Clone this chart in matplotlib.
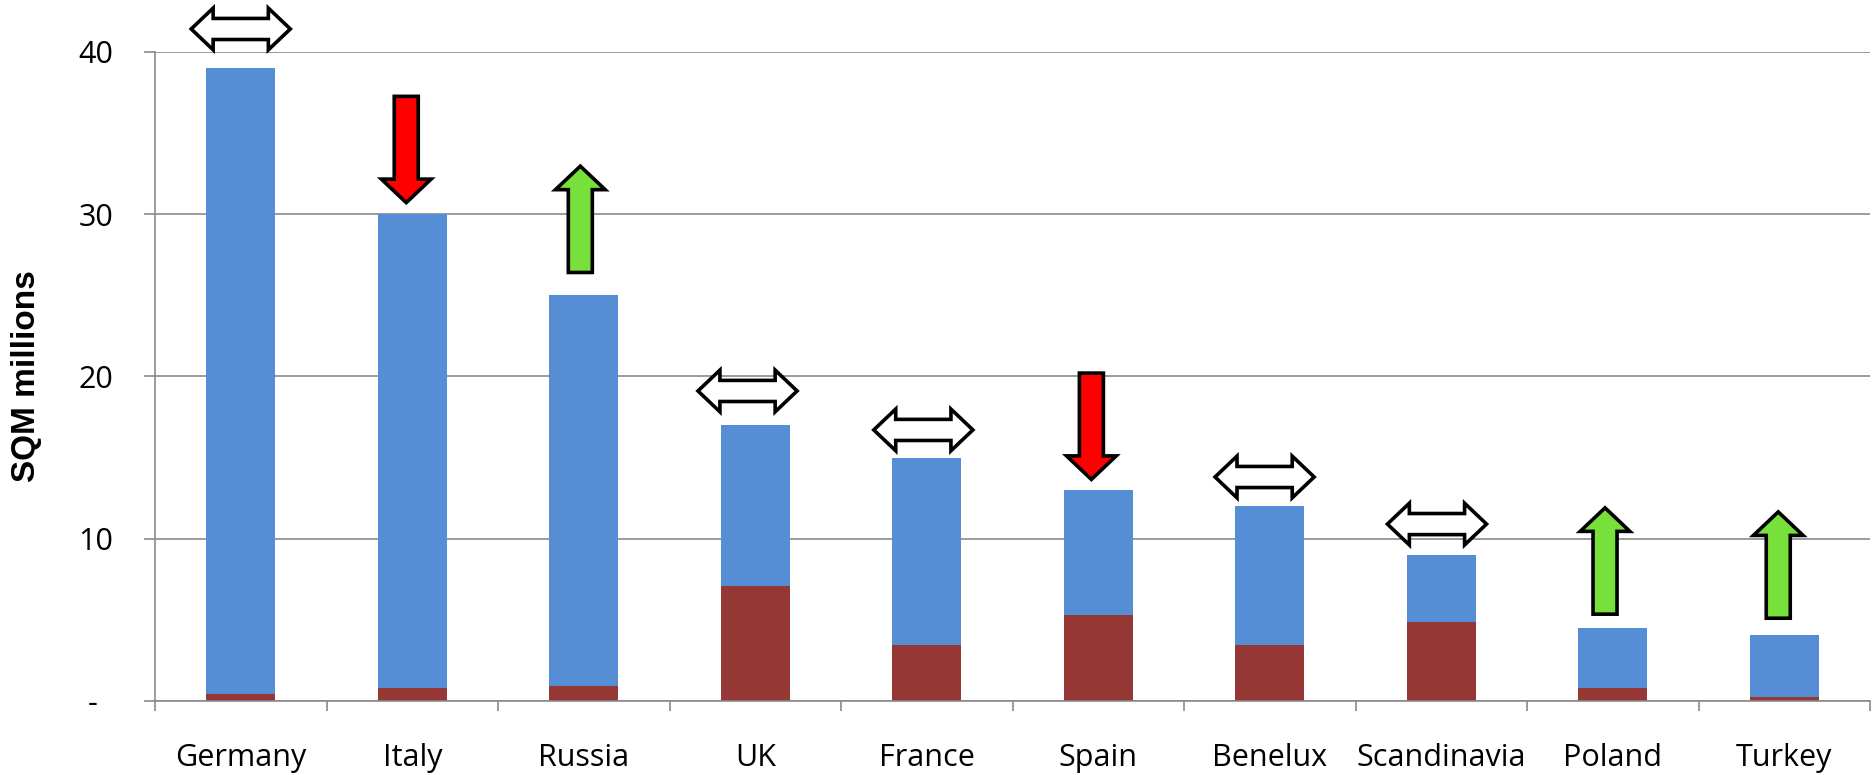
import matplotlib
matplotlib.use("Agg")
import matplotlib.pyplot as plt
from matplotlib.patches import Polygon
import numpy as np

countries = ["Germany", "Italy", "Russia", "UK", "France", "Spain",
             "Benelux", "Scandinavia", "Poland", "Turkey"]
total = [39.0, 30.0, 25.0, 17.0, 15.0, 13.0, 12.0, 9.0, 4.5, 4.05]
lower = [0.45, 0.8, 0.95, 7.1, 3.45, 5.3, 3.45, 4.85, 0.8, 0.25]
trend = ["flat", "down", "up", "flat", "flat", "down", "flat", "flat", "up", "up"]

# where each trend arrow sits: centre for flat, tip for down, tail for up
arrow_y = [41.4, 30.7, 26.4, 19.1, 16.7, 13.65, 13.8, 10.9, 5.35, 5.1]
arrow_dx = [0.0, -0.035, -0.02, -0.045, -0.02, -0.04, -0.03, -0.025, -0.045, -0.035]

yticks = [0, 10, 20, 30, 40]
yticklabels = ["-  ", "10", "20", "30", "40"]

BLUE = "#558ED5"
DARKRED = "#953735"
GRID = "#8a8a8a"
ARROW_COLORS = {"up": "#77E03B", "down": "#FF0000", "flat": "white"}

plt.rcParams["font.family"] = ["Open Sans", "DejaVu Sans"]

fig = plt.figure(figsize=(18.74, 7.75), dpi=100)
ax = fig.add_axes([155 / 1874, 74 / 775, 1715 / 1874, 649.3 / 775])

x = np.arange(len(countries))
upper = [t - l for t, l in zip(total, lower)]
ax.bar(x, lower, width=0.4, color=DARKRED, zorder=2)
ax.bar(x, upper, width=0.4, bottom=lower, color=BLUE, zorder=2)


def flat_arrow(cx, cy):
    L, h, H, s = 0.289, 0.128, 1.285, 0.65
    return [(cx - L, cy), (cx - L + h, cy + H), (cx - L + h, cy + s),
            (cx + L - h, cy + s), (cx + L - h, cy + H), (cx + L, cy),
            (cx + L - h, cy - H), (cx + L - h, cy - s), (cx - L + h, cy - s),
            (cx - L + h, cy - H)]


def vert_arrow(cx, y0, up):
    T, hl, hw, sw = 6.55, 1.45, 0.145, 0.07
    if up:
        tail, tip, d = y0, y0 + T, 1
    else:
        tail, tip, d = y0 + T, y0, -1
    neck = tip - d * hl
    return [(cx - sw, tail), (cx - sw, neck), (cx - hw, neck), (cx, tip),
            (cx + hw, neck), (cx + sw, neck), (cx + sw, tail)]


for i, t in enumerate(trend):
    cx = x[i] + arrow_dx[i]
    if t == "flat":
        pts = flat_arrow(cx, arrow_y[i])
    else:
        pts = vert_arrow(cx, arrow_y[i], t == "up")
    ax.add_patch(Polygon(pts, closed=True, facecolor=ARROW_COLORS[t],
                         edgecolor="black", linewidth=2.6, joinstyle="miter",
                         clip_on=False, zorder=4))

ax.set_xlim(-0.5, len(countries) - 0.5)
ax.set_ylim(0, 40)

ax.set_yticks(yticks)
ax.set_yticklabels(yticklabels)
ax.yaxis.grid(True, color=GRID, linewidth=1.2)
ax.set_axisbelow(True)
ax.tick_params(axis="y", length=8, width=1.2, color=GRID, pad=22, labelsize=22)

ax.set_xticks(x)
ax.set_xticklabels(countries)
ax.set_xticks(np.arange(-0.5, len(countries)), minor=True)
ax.tick_params(axis="x", which="major", length=0, pad=30, labelsize=22)
ax.tick_params(axis="x", which="minor", length=7.5, width=1.2, color=GRID)

for side in ["top", "right"]:
    ax.spines[side].set_visible(False)
for side in ["left", "bottom"]:
    ax.spines[side].set_color(GRID)
    ax.spines[side].set_linewidth(1.2)

ax.set_ylabel("SQM millions", fontsize=24, fontweight="bold",
              family=["Liberation Sans", "DejaVu Sans"])
ax.yaxis.set_label_coords(-0.066, 0.5)

fig.savefig("out.png", dpi=100)
